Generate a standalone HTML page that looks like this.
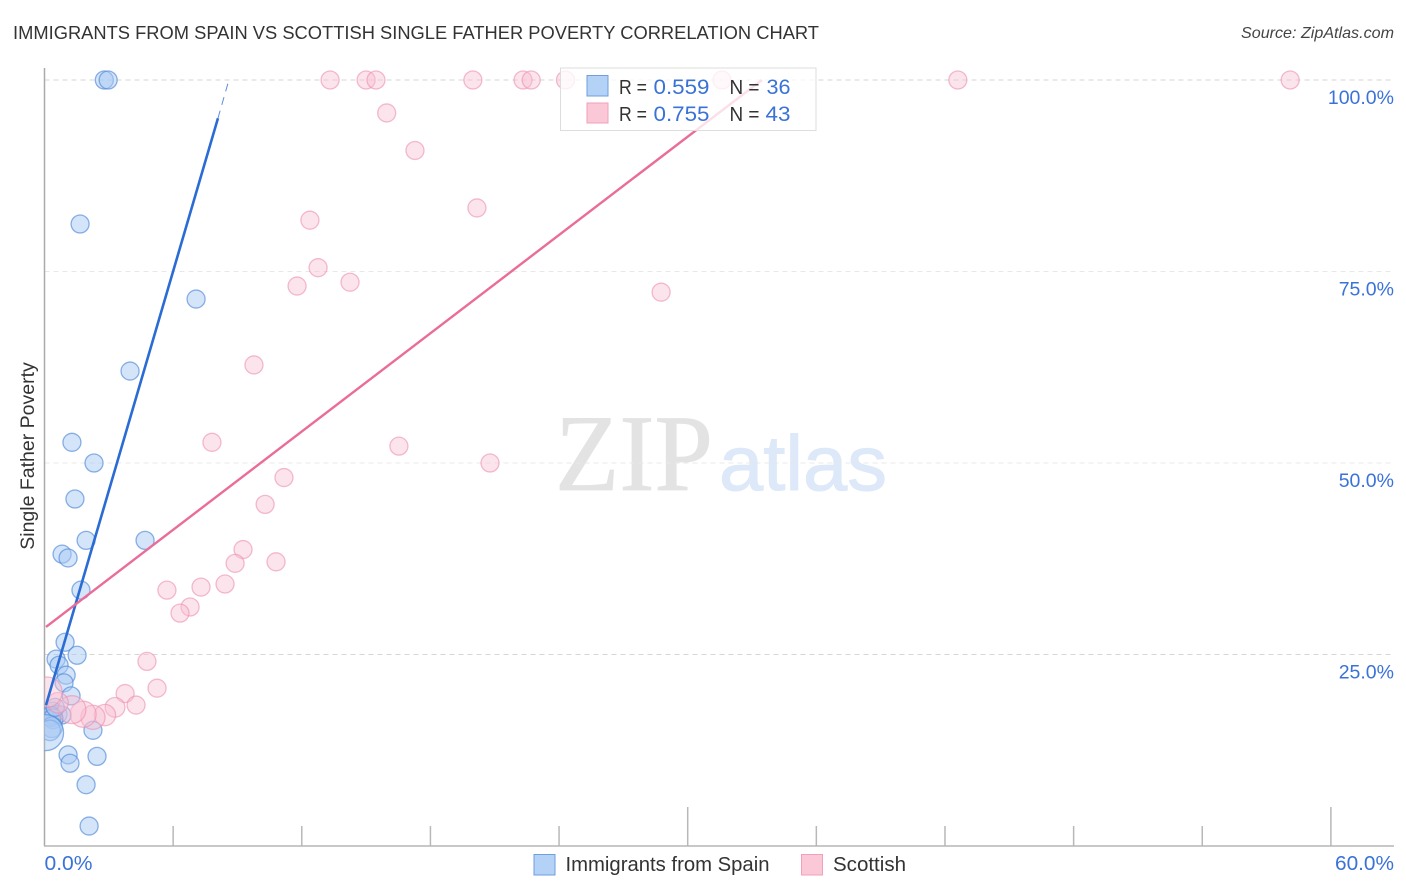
<!DOCTYPE html>
<html lang="en">
<head>
<meta charset="utf-8">
<title>Immigrants from Spain vs Scottish Single Father Poverty Correlation Chart</title>
<style>
html,body{margin:0;padding:0;background:#fff;}
svg{display:block;font-family:"Liberation Sans",sans-serif;}
</style>
</head>
<body>
<svg id="chart" xmlns="http://www.w3.org/2000/svg" width="1406" height="892" viewBox="0 0 1406 892">
  <defs>
    <clipPath id="plot-clip"><rect x="44.5" y="60" width="1350" height="786"/></clipPath>
  </defs>
  <rect x="0" y="0" width="1406" height="892" fill="#ffffff"/>
  <text x="13" y="39" font-size="18.6" fill="#333333" textLength="806" lengthAdjust="spacingAndGlyphs">IMMIGRANTS FROM SPAIN VS SCOTTISH SINGLE FATHER POVERTY CORRELATION CHART</text>
  <text x="1394" y="38" font-size="16" font-style="italic" fill="#444444" text-anchor="end" textLength="153" lengthAdjust="spacingAndGlyphs">Source: ZipAtlas.com</text>
  <text x="555" y="490" font-family="'Liberation Serif',serif" font-size="109" fill="#e3e3e3" stroke="#e3e3e3" stroke-width="0.8" textLength="158" lengthAdjust="spacingAndGlyphs">ZIP</text>
  <text x="719" y="490" font-size="78" fill="#dde8f8" stroke="#dde8f8" stroke-width="1" textLength="168" lengthAdjust="spacingAndGlyphs">atlas</text>
  <g id="grid"></g>
  <g id="ticks"></g>
  <line x1="44.5" y1="68" x2="44.5" y2="846" stroke="#aaaaaa" stroke-width="1.5"/>
  <line x1="44" y1="846" x2="1394" y2="846" stroke="#b5b5b5" stroke-width="1.5"/>
  <g id="points" clip-path="url(#plot-clip)"></g>
  <g id="fits"></g>
  <g id="labels"></g>
  <text transform="translate(34,456) rotate(-90)" font-size="19.5" fill="#333333" text-anchor="middle">Single Father Poverty</text>
  <g>
    <rect x="560.5" y="68" width="255.5" height="62.5" fill="#ffffff" fill-opacity="0.78" stroke="#dddddd" stroke-width="1"/>
    <rect x="587" y="75.5" width="21" height="20.5" fill="#b4d1f6" stroke="#6f9fdc" stroke-width="1"/>
    <rect x="587" y="103" width="21" height="20" fill="#fbc8d8" stroke="#f0a0ba" stroke-width="1"/>
    <text font-size="20.5" y="94" x="619" fill="#333333" textLength="28" lengthAdjust="spacingAndGlyphs">R =</text>
    <text font-size="21.5" y="94" x="653.5" fill="#3a72d8" textLength="56" lengthAdjust="spacingAndGlyphs">0.559</text>
    <text font-size="20.5" y="94" x="729.5" fill="#333333" textLength="30" lengthAdjust="spacingAndGlyphs">N =</text>
    <text font-size="21.5" y="94" x="766.5" fill="#3a72d8" textLength="24" lengthAdjust="spacingAndGlyphs">36</text>
    <text font-size="20.5" y="121" x="619" fill="#333333" textLength="28" lengthAdjust="spacingAndGlyphs">R =</text>
    <text font-size="21.5" y="121" x="653.5" fill="#3a72d8" textLength="56" lengthAdjust="spacingAndGlyphs">0.755</text>
    <text font-size="20.5" y="121" x="729.5" fill="#333333" textLength="30" lengthAdjust="spacingAndGlyphs">N =</text>
    <text font-size="21.5" y="121" x="765.5" fill="#3a72d8" textLength="25" lengthAdjust="spacingAndGlyphs">43</text>
  </g>
  <g>
    <rect x="534" y="854.5" width="21" height="20.5" fill="#b4d1f6" stroke="#6f9fdc" stroke-width="1"/>
    <text x="565.5" y="871" font-size="20" fill="#333333" textLength="204" lengthAdjust="spacingAndGlyphs">Immigrants from Spain</text>
    <rect x="801.5" y="854.5" width="21" height="20.5" fill="#fbc8d8" stroke="#f0a0ba" stroke-width="1"/>
    <text x="833" y="871" font-size="20" fill="#333333" textLength="73" lengthAdjust="spacingAndGlyphs">Scottish</text>
  </g>
</svg>
<script>
const yGridValues = [100, 75, 50, 25];
const xTickValues = [0, 6, 12, 18, 24, 30, 36, 42, 48, 54, 60];
const xMajorTicks = [30, 60];
const xTickLabels = ["0.0%", "60.0%"];
const xTickLabelValues = [0, 60];
const yTickLabels = ["100.0%", "75.0%", "50.0%", "25.0%"];

const spainX = [2.79, 2.97, 1.66, 7.07, 3.99, 1.28, 2.31, 1.42, 1.94, 4.69, 0.82, 1.10, 1.70, 0.96, 1.52, 0.54, 0.68, 1.01, 0.91, 1.24, 0.40, 0.40, 0.63, 0.82, 0.30, 0.40, 0.35, 0.26, 0.05, 2.26, 1.10, 2.45, 1.19, 1.94, 2.08, 0.50];
const spainY = [100, 100, 81.2, 71.4, 62.0, 52.7, 50.0, 45.3, 39.9, 39.9, 38.1, 37.6, 33.4, 26.6, 24.9, 24.4, 23.6, 22.3, 21.3, 19.6, 17.6, 17.0, 17.2, 17.1, 16.9, 16.6, 15.5, 15.1, 14.8, 15.1, 11.9, 11.7, 10.8, 8.0, 2.6, 18.1];
const spainSize = [1, 1, 1, 1, 1, 1, 1, 1, 1, 1, 1, 1, 1, 1, 1, 1, 1, 1, 1, 1, 1, 1, 1, 1, 1.2, 1.2, 1.3, 1.3, 4.0, 1, 1, 1, 1, 1, 1, 1];

const scottishX = [13.32, 15.0, 15.46, 19.98, 22.32, 22.7, 24.3, 31.6, 42.6, 58.1, 15.96, 17.28, 12.38, 20.17, 12.76, 11.78, 14.25, 28.76, 9.77, 7.81, 16.53, 20.78, 11.17, 10.29, 9.26, 8.89, 10.8, 5.71, 7.30, 8.42, 6.79, 6.32, 4.78, 5.25, 3.76, 4.27, 3.29, 2.82, 2.26, 1.80, 1.28, 0.63, 0.12];
const scottishY = [100, 100, 100, 100, 100, 100, 100, 100, 100, 100, 95.7, 90.8, 81.7, 83.3, 75.5, 73.1, 73.6, 72.3, 62.8, 52.7, 52.2, 50.0, 48.1, 44.6, 38.7, 36.9, 37.1, 33.4, 33.8, 34.2, 31.2, 30.4, 24.1, 20.6, 19.9, 18.4, 18.1, 17.1, 16.8, 17.2, 17.8, 18.7, 20.1];
const scottishSize = [1, 1, 1, 1, 1, 1, 1, 1, 1, 1, 1, 1, 1, 1, 1, 1, 1, 1, 1, 1, 1, 1, 1, 1, 1, 1, 1, 1, 1, 1, 1, 1, 1, 1, 1, 1, 1.2, 1.4, 1.8, 2.1, 2.4, 1.3, 2.8];

const spainFitX = [0.07, 8.09];
const spainFitY = [18.4, 95.0];
const spainFitDashX = [8.09, 8.6];
const spainFitDashY = [95.0, 100];
const scottishFitX = [0.07, 33.46];
const scottishFitY = [28.6, 100];

const NS = 'http://www.w3.org/2000/svg';
function xScale(v) { return 44.5 + v * 21.44; }
function yScale(v) { return 846 - v * 7.66; }
function rScale(s) { return 9 * Math.sqrt(s); }
function make(tag, attrs, parent) {
  const el = document.createElementNS(NS, tag);
  for (const k in attrs) el.setAttribute(k, attrs[k]);
  parent.appendChild(el);
  return el;
}
const gGrid = document.getElementById('grid');
const gTicks = document.getElementById('ticks');
const gPoints = document.getElementById('points');
const gFits = document.getElementById('fits');
const gLabels = document.getElementById('labels');

yGridValues.forEach(function (v) {
  const el = make('line', { x1: 44.5, x2: 1394, y1: yScale(v), y2: yScale(v), stroke: v === 100 || v === 25 ? '#d6d6d6' : '#e8e8e8', 'stroke-width': 1, 'stroke-dasharray': '5 4' }, gGrid);
  
  
});
xTickValues.slice(1).forEach(function (v) {
  const top = xMajorTicks.indexOf(v) >= 0 ? 807 : 826;
  const el = make('line', { x1: xScale(v), x2: xScale(v), y1: top, y2: 846, stroke: '#b8b8b8', 'stroke-width': 1.5 }, gTicks);
  
  
});
xTickLabels.forEach(function (t, i) {
  const first = i === 0;
  const el = make('text', { x: first ? 44.5 : 1335, y: 870, 'font-size': 20, fill: '#3a72d8', textLength: first ? 48 : 59, lengthAdjust: 'spacingAndGlyphs' }, gLabels);
  el.textContent = t;
  
  
});
yTickLabels.forEach(function (t, i) {
  const el = make('text', { x: 1394, y: yScale(yGridValues[i]) + 24, 'font-size': 19.5, fill: '#3a72d8', 'text-anchor': 'end' }, gLabels);
  el.textContent = t;
  
  
});
spainX.forEach(function (x, i) {
  const el = make('circle', { cx: xScale(x), cy: yScale(spainY[i]), r: rScale(spainSize[i]), fill: '#a9c9f3', 'fill-opacity': 0.5, stroke: '#4f88d8', 'stroke-opacity': 0.65, 'stroke-width': 1.3 }, gPoints);
  
  
});
scottishX.forEach(function (x, i) {
  const el = make('circle', { cx: xScale(x), cy: yScale(scottishY[i]), r: rScale(scottishSize[i]), fill: '#f9bfd1', 'fill-opacity': 0.42, stroke: '#ec8fae', 'stroke-opacity': 0.6, 'stroke-width': 1.3 }, gPoints);
  
  
});
const spainFit = make('line', { x1: xScale(spainFitX[0]), y1: yScale(spainFitY[0]), x2: xScale(spainFitX[1]), y2: yScale(spainFitY[1]), stroke: '#2a6bd4', 'stroke-width': 2.6 }, gFits);


const spainDash = make('line', { x1: xScale(spainFitDashX[0]), y1: yScale(spainFitDashY[0]), x2: xScale(spainFitDashX[1]), y2: yScale(spainFitDashY[1]), stroke: '#5b8fdc', 'stroke-width': 1, 'stroke-dasharray': '8 6' }, gFits);


const scottishFit = make('line', { x1: xScale(scottishFitX[0]), y1: yScale(scottishFitY[0]), x2: xScale(scottishFitX[1]), y2: yScale(scottishFitY[1]), stroke: '#ea6c99', 'stroke-width': 2.4 }, gFits);


</script>
</body>
</html>
